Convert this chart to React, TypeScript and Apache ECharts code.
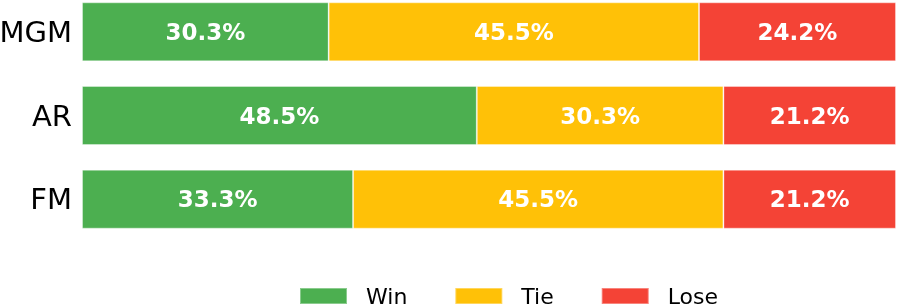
import React, { useEffect, useRef } from "react";
import * as echarts from "echarts";

const categories = ["MGM", "AR", "FM"];
const seriesNames = ["Win", "Tie", "Lose"];
const winValues = [30.3, 48.5, 33.3];
const tieValues = [45.5, 30.3, 45.5];
const loseValues = [24.2, 21.2, 21.2];
const colors = ["#4CAF50", "#FFC107", "#F44336"];

export default function App() {
  const ref = useRef<HTMLDivElement>(null);
  useEffect(() => {
    if (!ref.current) return;
    const chart = echarts.init(ref.current, null, { renderer: "svg" });
    const allValues = [winValues, tieValues, loseValues];
    chart.setOption({
      animation: false,
      grid: {
        left: 82,
        right: 1,
        top: -10,
        height: 251,
        containLabel: false,
        outerBoundsMode: "none",
      },
      xAxis: {
        type: "value",
        min: 0,
        max: 100,
        show: false,
      },
      yAxis: {
        type: "category",
        data: categories,
        inverse: true,
        axisLine: { show: false },
        axisTick: { show: false },
        splitLine: { show: false },
        axisLabel: {
          fontFamily: "DejaVu Sans",
          fontSize: 29,
          color: "#000",
          margin: 10,
        },
      },
      legend: {
        data: seriesNames,
        left: 299,
        top: 285,
        padding: 0,
        itemWidth: 47,
        itemHeight: 16,
        itemGap: 47,
        icon: "rect",
        textStyle: {
          fontFamily: "DejaVu Sans",
          fontSize: 22,
          color: "#000",
          padding: [0, 0, 0, 14],
        },
      },
      series: seriesNames.map((name, i) => ({
        name,
        type: "bar",
        stack: "total",
        barWidth: 59,
        data: allValues[i],
        itemStyle: {
          color: colors[i],
          borderColor: "rgba(255,255,255,0.35)",
          borderWidth: 1,
        },
        label: {
          show: true,
          position: "inside",
          color: "#fff",
          fontFamily: "DejaVu Sans",
          fontWeight: "bold",
          fontSize: 23,
          formatter: (p: any) => `${Number(p.value).toFixed(1)}%`,
        },
      })),
    });
    return () => chart.dispose();
  }, []);
  return (
    <div
      ref={ref}
      style={{ position: "fixed", left: 0, top: 0, width: 897, height: 305 }}
    />
  );
}
